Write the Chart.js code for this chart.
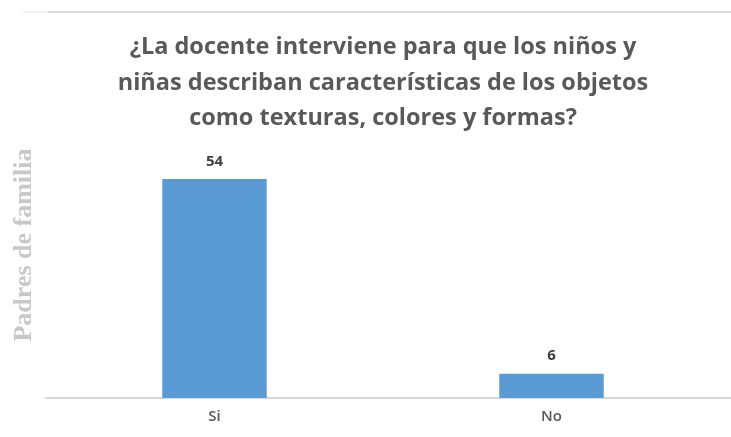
<!DOCTYPE html>
<html>
<head>
<meta charset="utf-8">
<script src="https://cdn.jsdelivr.net/npm/chart.js@4/dist/chart.umd.min.js"></script>
<style>
html,body{margin:0;padding:0;background:#fff;}
#wrap{width:731px;height:437px;position:relative;}
</style>
</head>
<body>
<div id="wrap"><canvas id="c" width="731" height="437"></canvas></div>
<script>
const categories = ["Si", "No"];
const values = [54, 6];
const titleLines = ["¿La docente interviene para que los niños y", "niñas describan características de los objetos", "como texturas, colores y formas?"];
const yTitle = "Padres de familia";

const extras = {
  id: 'extras',
  afterDraw(chart) {
    const ctx = chart.ctx;
    const area = chart.chartArea;
    ctx.save();
    ctx.strokeStyle = '#d9d9d9';
    ctx.lineWidth = 2;
    ctx.beginPath(); ctx.moveTo(48, 12); ctx.lineTo(731, 12); ctx.stroke();
    ctx.beginPath(); ctx.moveTo(area.right - 1, area.bottom); ctx.lineTo(731, area.bottom); ctx.stroke();
    ctx.strokeStyle = '#f0f0f0';
    ctx.beginPath(); ctx.moveTo(23, 12); ctx.lineTo(48, 12); ctx.stroke();
    ctx.translate(24, 245);
    ctx.rotate(-Math.PI / 2);
    ctx.fillStyle = '#c8c8c8';
    ctx.font = 'bold 26px "Liberation Serif", "Times New Roman", serif';
    ctx.textAlign = 'center';
    ctx.textBaseline = 'middle';
    ctx.fillText(yTitle, 0, 0);
    ctx.restore();
  },
  afterDatasetsDraw(chart) {
    const ctx = chart.ctx;
    const meta = chart.getDatasetMeta(0);
    ctx.save();
    ctx.fillStyle = '#404040';
    ctx.font = 'bold 15px "Open Sans", sans-serif';
    ctx.textAlign = 'center';
    ctx.textBaseline = 'bottom';
    meta.data.forEach((bar, i) => {
      ctx.fillText(String(values[i]), bar.x, bar.y - 10);
    });
    ctx.restore();
  }
};

new Chart(document.getElementById('c'), {
  type: 'bar',
  data: {
    labels: categories,
    datasets: [{
      data: values,
      backgroundColor: '#5B9BD5',
      categoryPercentage: 1,
      barPercentage: 0.31
    }]
  },
  options: {
    responsive: false,
    animation: false,
    layout: { padding: { left: 46, right: 11, top: 0, bottom: 9 } },
    plugins: {
      legend: { display: false },
      tooltip: { enabled: false },
      title: {
        display: true,
        fullSize: false,
        text: titleLines,
        color: '#595959',
        font: { family: '"Open Sans", sans-serif', size: 23.5, weight: 'bold', lineHeight: 1.5 },
        padding: { top: 30, bottom: 19 }
      }
    },
    scales: {
      x: {
        grid: { display: false },
        border: { color: '#d9d9d9', width: 2 },
        ticks: { color: '#595959', font: { family: '"Open Sans", sans-serif', size: 15, weight: '600' }, padding: 2 }
      },
      y: {
        display: false,
        min: 0,
        max: 60
      }
    }
  },
  plugins: [extras]
});
</script>
</body>
</html>
